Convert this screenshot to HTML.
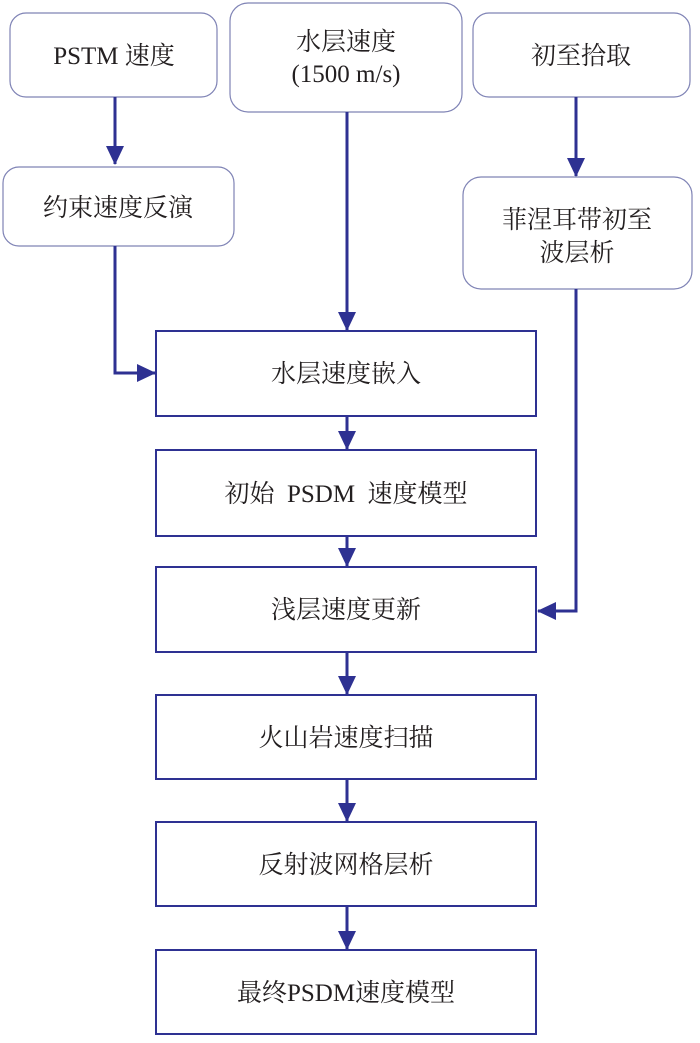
<!DOCTYPE html>
<html><head><meta charset="utf-8"><style>
html,body{margin:0;padding:0;background:#fff;}
svg text{font-family:"Liberation Serif","Noto Serif CJK SC",serif;font-size:25px;fill:#231f20;text-anchor:middle;}
</style></head><body>
<svg width="700" height="1038" viewBox="0 0 700 1038" xmlns="http://www.w3.org/2000/svg">
<defs>
<marker id="a" markerWidth="19" markerHeight="18" refX="18" refY="9" orient="auto" markerUnits="userSpaceOnUse">
<path d="M0,0 L19,9 L0,18 z" fill="#2e3192"/>
</marker>
</defs>
<g fill="#fff" stroke="#7f83b5" stroke-width="1.2">
<rect x="10" y="13" width="207" height="84" rx="16"/>
<rect x="230" y="3" width="232" height="109" rx="18"/>
<rect x="473" y="13" width="217" height="84" rx="16"/>
<rect x="3" y="167" width="231" height="79" rx="16"/>
<rect x="463" y="177" width="229" height="112" rx="18"/>
</g>
<g fill="#fff" stroke="#2e3192" stroke-width="2">
<rect x="156" y="331" width="380" height="85"/>
<rect x="156" y="450" width="380" height="86"/>
<rect x="156" y="567" width="380" height="85"/>
<rect x="156" y="695" width="380" height="84"/>
<rect x="156" y="822" width="380" height="84"/>
<rect x="156" y="950" width="380" height="84"/>
</g>
<g stroke="#2e3192" stroke-width="3" fill="none" marker-end="url(#a)">
<path d="M115,97 V164"/>
<path d="M576,97 V176"/>
<path d="M347,112 V330"/>
<path d="M115,246 V373 H155"/>
<path d="M576,289 V611 H538"/>
<path d="M347,416 V449"/>
<path d="M347,536 V566"/>
<path d="M347,652 V694"/>
<path d="M347,779 V821"/>
<path d="M347,906 V949"/>
</g>
<text x="114" y="64">PSTM 速度</text>
<text x="346" y="50">水层速度</text>
<text x="346" y="82">(1500 m/s)</text>
<text x="581" y="64">初至拾取</text>
<text x="118" y="216">约束速度反演</text>
<text x="577" y="228">菲涅耳带初至</text>
<text x="577" y="261">波层析</text>
<text x="346" y="382">水层速度嵌入</text>
<text x="346" y="502" xml:space="preserve">初始  PSDM  速度模型</text>
<text x="346" y="618">浅层速度更新</text>
<text x="346" y="746">火山岩速度扫描</text>
<text x="346" y="873">反射波网格层析</text>
<text x="346" y="1001">最终PSDM速度模型</text>
</svg>
</body></html>
